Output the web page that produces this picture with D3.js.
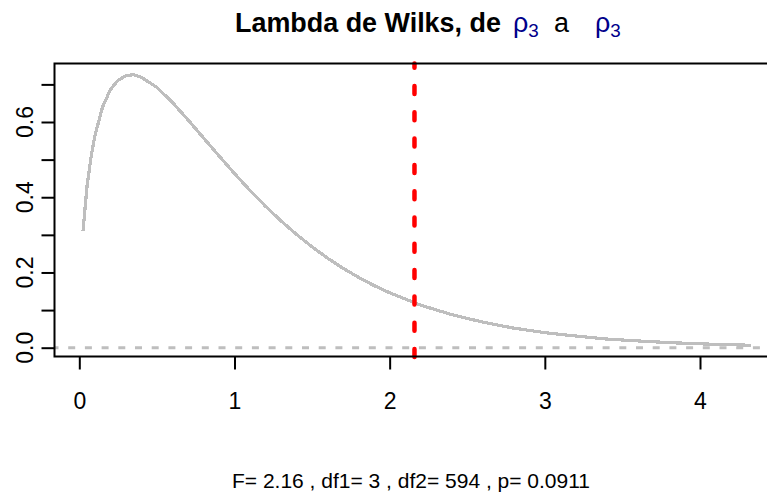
<!DOCTYPE html>
<html>
<head>
<meta charset="utf-8">
<script src="https://cdn.jsdelivr.net/npm/d3@7"></script>
<style>
  html, body { margin: 0; padding: 0; background: #ffffff; }
  svg { display: block; font-family: "Liberation Sans", Arial, sans-serif; }
</style>
</head>
<body>
<svg id="chart" width="767" height="499"></svg>
<script>
// Density of the F statistic (df1 = 3, df2 = 594) across the observed range
const fValues = [0.024, 0.05, 0.075, 0.1, 0.15, 0.2, 0.25, 0.3, 0.35, 0.4, 0.5, 0.6, 0.7, 0.8, 0.9,
                 1.0, 1.1, 1.2, 1.3, 1.4, 1.5, 1.6, 1.7, 1.8, 1.9, 2.0, 2.2, 2.4, 2.6, 2.8,
                 3.0, 3.2, 3.4, 3.6, 3.8, 4.0, 4.2, 4.33];
const density = [0.31, 0.43, 0.505, 0.563, 0.64, 0.686, 0.711, 0.723, 0.726, 0.719, 0.692, 0.652, 0.606, 0.558, 0.51,
                 0.463, 0.418, 0.376, 0.337, 0.301, 0.268, 0.238, 0.211, 0.187, 0.165, 0.146, 0.113, 0.088, 0.068, 0.052,
                 0.04, 0.031, 0.023, 0.018, 0.0135, 0.0103, 0.0078, 0.0065];

// Axis ticks
const xTicks = [0, 1, 2, 3, 4];
const yTicks = [0, 0.1, 0.2, 0.3, 0.4, 0.5, 0.6, 0.7];
const yLabels = [0, 0.2, 0.4, 0.6];

// Test result
const fStat = 2.16;
const df1 = 3;
const df2 = 594;
const pValue = 0.0911;

const svg = d3.select("#chart");
const box = { left: 54.5, top: 63.5, right: 790, bottom: 356.5 };
const labelSize = 23;

const x = d3.scaleLinear().domain([0, 4]).range([79.3, 700]);
const y = d3.scaleLinear().domain([0, 0.6]).range([347.7, 122]);

svg.append("rect").attr("width", 767).attr("height", 499).attr("fill", "#ffffff");

// Reference line at zero density
svg.append("line")
  .attr("x1", box.left).attr("x2", box.right)
  .attr("y1", y(0)).attr("y2", y(0))
  .attr("stroke", "#bebebe").attr("stroke-width", 3)
  .attr("stroke-dasharray", "7,9.7")
  .attr("stroke-dashoffset", 3);

// Density curve
const line = d3.line().x((d, i) => x(fValues[i])).y(d => y(d));
svg.append("path")
  .datum(density)
  .attr("d", line)
  .attr("fill", "none")
  .attr("stroke", "#bebebe")
  .attr("stroke-width", 3.2)
  .attr("stroke-linejoin", "round")
  .attr("shape-rendering", "crispEdges");

// Observed F statistic
svg.append("line")
  .attr("x1", x(fStat)).attr("x2", x(fStat))
  .attr("y1", box.bottom + 0.5).attr("y2", box.top)
  .attr("stroke", "#ff0000").attr("stroke-width", 4.5)
  .attr("stroke-linecap", "round")
  .attr("stroke-dasharray", "8,18.3");

// Plot frame
svg.append("rect")
  .attr("x", box.left).attr("y", box.top)
  .attr("width", box.right - box.left).attr("height", box.bottom - box.top)
  .attr("fill", "none").attr("stroke", "#000").attr("stroke-width", 2);

// X axis
const xAxis = svg.append("g")
  .attr("transform", `translate(0,${box.bottom})`)
  .call(d3.axisBottom(x).tickValues(xTicks).tickSize(13).tickPadding(23).tickFormat(d3.format("d")));
xAxis.select(".domain").remove();
xAxis.selectAll(".tick line").attr("stroke", "#000").attr("stroke-width", 2);
xAxis.selectAll(".tick text")
  .attr("fill", "#000").attr("font-size", labelSize)
  .attr("font-family", "'Liberation Sans', Arial, sans-serif");

// Y axis
const yAxis = svg.append("g")
  .attr("transform", `translate(${box.left},0)`)
  .call(d3.axisLeft(y).tickValues(yTicks).tickSize(13).tickFormat(""));
yAxis.select(".domain").remove();
yAxis.selectAll(".tick line").attr("stroke", "#000").attr("stroke-width", 2);

svg.append("g").selectAll("text")
  .data(yLabels)
  .join("text")
  .attr("transform", d => `translate(33,${y(d)}) rotate(-90)`)
  .attr("text-anchor", "middle")
  .attr("font-size", labelSize)
  .attr("fill", "#000")
  .text(d => d3.format(".1f")(d));

// Title: bold lead text sized to span up to the first rho
const title = svg.append("g");
const lead = title.append("text")
  .attr("x", 235).attr("y", 32)
  .attr("font-size", 26)
  .attr("font-weight", "bold").attr("fill", "#000")
  .text("Lambda de Wilks, de");
const leadWidth = lead.node().getComputedTextLength();
const titleSize = 26 * 266 / leadWidth;
lead.attr("font-size", titleSize);

function rhoSub(gx) {
  const t = title.append("text").attr("x", gx).attr("y", 32)
    .attr("font-size", titleSize).attr("fill", "#00008b");
  t.append("tspan").text("ρ");
  t.append("tspan").attr("font-size", titleSize * 0.7).attr("dy", 5).text("3");
}
rhoSub(513);
title.append("text")
  .attr("x", 554).attr("y", 32).attr("font-size", titleSize).attr("fill", "#000")
  .text("a");
rhoSub(595);

// Test summary below the axis
svg.append("text")
  .attr("x", 411).attr("y", 488)
  .attr("text-anchor", "middle")
  .attr("font-size", 21)
  .attr("fill", "#000")
  .text(`F= ${fStat} , df1= ${df1} , df2= ${df2} , p= ${pValue}`);
</script>
</body>
</html>
